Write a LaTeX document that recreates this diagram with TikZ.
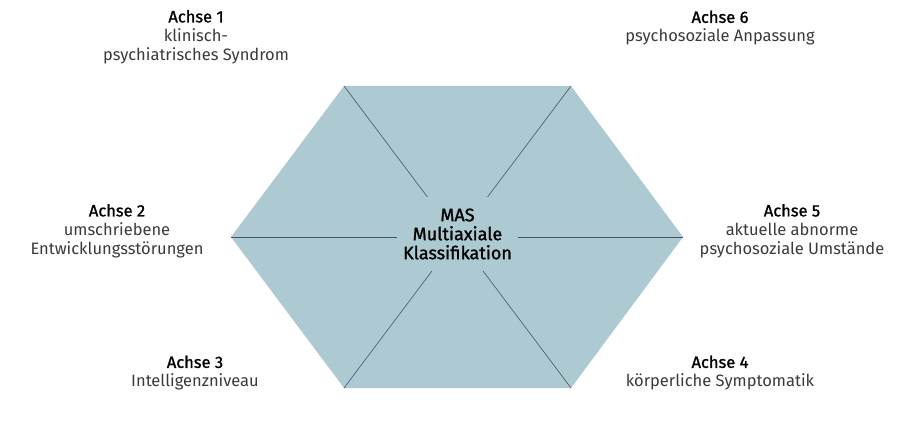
\documentclass[tikz,border=0pt]{standalone}
\usepackage{fontspec}
\setmainfont{Fira Sans}
\newfontfamily\headfont{Fira Sans}[FakeBold=1.2]
\usepackage{xcolor}
\definecolor{hexfill}{HTML}{ADCAD2}
\definecolor{spoke}{HTML}{4A5262}
\definecolor{bodytext}{HTML}{3A3A3A}

\begin{document}
\begin{tikzpicture}[
  x=1pt, y=-1pt,
  axis/.style={align=center, font=\fontsize{16.5}{19}\selectfont, text=bodytext, inner sep=0pt},
  core/.style={align=center, font=\fontsize{18}{19}\selectfont\headfont, fill=hexfill, minimum width=121pt, minimum height=74pt, inner sep=0pt}
]
\useasboundingbox (0,0) rectangle (902,421);
% hexagon corners
\coordinate (c1) at (344,86);
\coordinate (c6) at (571,86);
\coordinate (c5) at (683,237);
\coordinate (c4) at (571,388);
\coordinate (c3) at (344,388);
\coordinate (c2) at (231,237);
\coordinate (ctr) at (457.5,237);
\fill[hexfill] (c1) -- (c6) -- (c5) -- (c4) -- (c3) -- (c2) -- cycle;
\foreach \c in {c1,c2,c3,c4,c5,c6}
  \draw[spoke, line width=0.6pt] (ctr) -- (\c);
\node[core, text=black] (mas) at (457.5,234) {MAS\\Multiaxiale\\Klassifikation};

\node[axis] (achse1) at (196,37) {\textcolor{black}{\headfont Achse 1}\\klinisch-\\psychiatrisches Syndrom};
\node[axis] (achse2) at (117,231) {\textcolor{black}{\headfont Achse 2}\\umschriebene\\Entwicklungsstörungen};
\node[axis] (achse3) at (195,373) {\textcolor{black}{\headfont Achse 3}\\Intelligenzniveau};
\node[axis] (achse4) at (720,373) {\textcolor{black}{\headfont Achse 4}\\körperliche Symptomatik};
\node[axis] (achse5) at (792,231) {\textcolor{black}{\headfont Achse 5}\\aktuelle abnorme\\psychosoziale Umstände};
\node[axis] (achse6) at (720,28) {\textcolor{black}{\headfont Achse 6}\\psychosoziale Anpassung};
\end{tikzpicture}
\end{document}
